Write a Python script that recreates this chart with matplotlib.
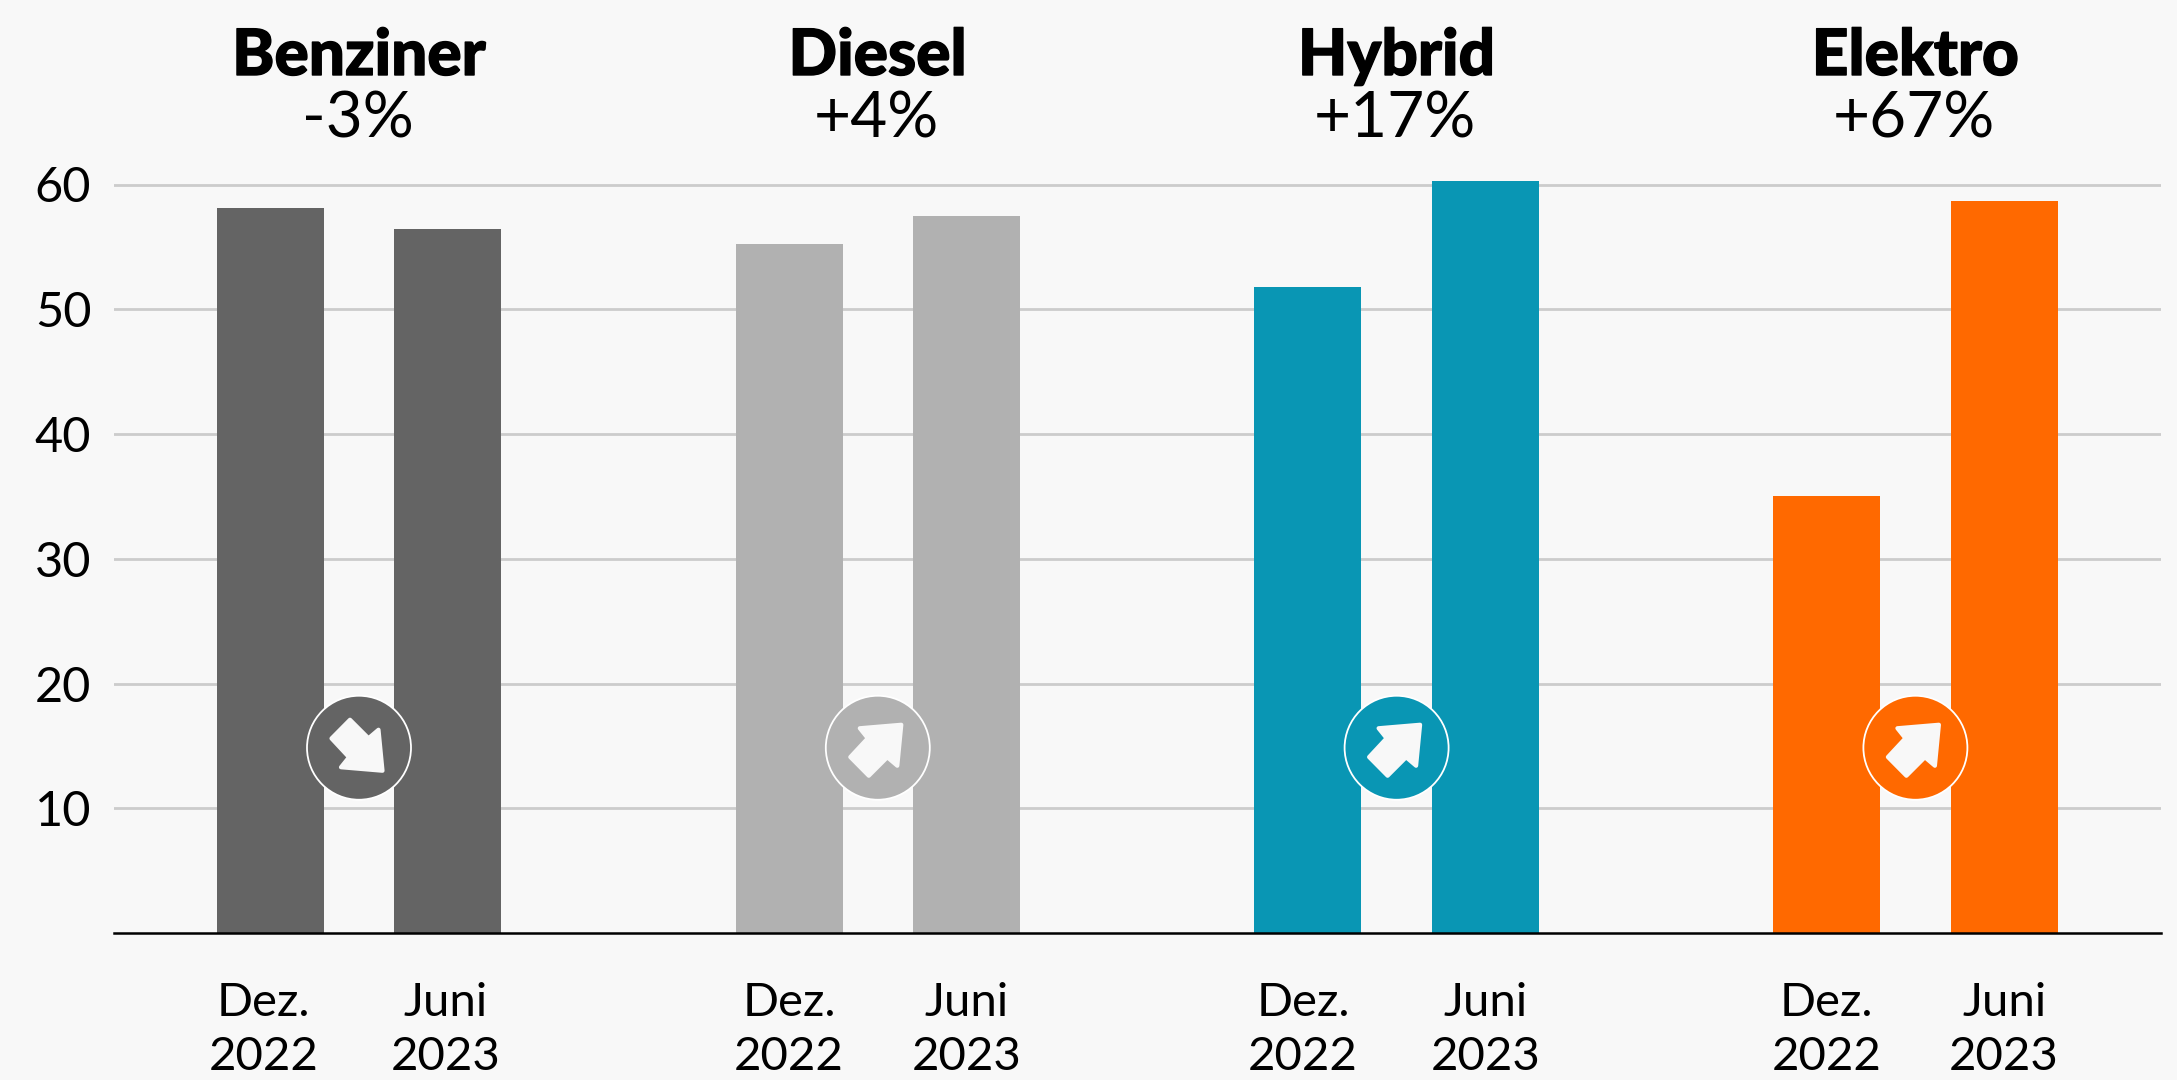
#!/usr/bin/env python3
"""Bar chart: Benziner / Diesel / Hybrid / Elektro, Dez. 2022 vs Juni 2023."""
import matplotlib
matplotlib.use("Agg")
import matplotlib.pyplot as plt
import matplotlib.patheffects as pe
from matplotlib.patches import Circle, Polygon
import numpy as np

W, H = 2177, 1080
BG = "#f8f8f8"

categories = ["Benziner", "Diesel", "Hybrid", "Elektro"]
changes = ["-3%", "+4%", "+17%", "+67%"]
dec_2022 = [58.1, 55.2, 51.75, 35.0]
jun_2023 = [56.4, 57.5, 60.3, 58.7]
colors = ["#646464", "#b1b1b1", "#0996b4", "#ff6900"]
yticks = [10, 20, 30, 40, 50, 60]
period_top = ["Dez.", "Juni"]
period_bottom = ["2022", "2023"]

plt.rcParams["font.family"] = ["Lato", "DejaVu Sans"]

# Pixel layout of the plot box
LEFT, RIGHT, TOP, BASE = 113.5, 2160.5, 100, 933
PX_PER_UNIT = 12.475
GROUP = 518.8   # px between groups
X0 = 359.0      # px of first group centre

# small nudges of the date labels, in px
dec_shift = [-7, 0, -5, 0]
jun_shift = [-2, 0, 0, 0]

# arrow pointing up-right, px from badge centre, y up (mirrored for "down")
ARROW = np.array([
    (23.5, 23.0), (-18.0, 19.5), (-10.0, 9.5), (-27.5, -9.3),
    (-9.0, -28.0), (9.5, -9.5), (19.5, -18.0),
])

fig = plt.figure(figsize=(W / 100, H / 100), dpi=100, facecolor=BG)
ax = fig.add_axes([LEFT / W, 1 - BASE / H, (RIGHT - LEFT) / W, (BASE - TOP) / H], facecolor=BG)
ax.set_xlim((LEFT - X0) / GROUP, (RIGHT - X0) / GROUP)
ax.set_ylim(0, (BASE - TOP) / PX_PER_UNIT)

x = np.arange(len(categories))
off = 88.7 / GROUP
width = 107 / GROUP

ax.bar(x - off, dec_2022, width, color=colors, zorder=3)
ax.bar(x + off, jun_2023, width, color=colors, zorder=3)

for s in ["top", "right", "left"]:
    ax.spines[s].set_visible(False)
ax.spines["bottom"].set_color("#000000")
ax.spines["bottom"].set_linewidth(1.8)
ax.spines["bottom"].set_zorder(4)

ax.set_yticks(yticks)
ax.yaxis.grid(True, color="#cccccc", lw=2.0, zorder=1)
ax.set_axisbelow(True)
ax.tick_params(axis="y", length=0, labelsize=35, pad=16, labelcolor="#000000")
ax.set_xticks([])

tr = ax.get_xaxis_transform()
for i, cat in enumerate(categories):
    cx = x[i]
    # offsets measured from the baseline of the plot
    t = ax.annotate(cat, (cx, 0), xycoords=tr, xytext=(0, BASE - 75), textcoords="offset pixels",
                    ha="center", va="baseline", fontsize=46, fontweight="black", color="#000000")
    t.set_path_effects([pe.withStroke(linewidth=1.0, foreground="#000000")])
    ax.annotate(changes[i], (cx - 1.5 / GROUP, 0), xycoords=tr, xytext=(0, BASE - 138), textcoords="offset pixels",
                ha="center", va="baseline", fontsize=46, color="#000000")

    shifts = (dec_shift[i], jun_shift[i])
    for k, xx in enumerate((cx - off, cx + off)):
        ax.annotate(period_top[k], (xx, 0), xycoords=tr, xytext=(shifts[k], -83), textcoords="offset pixels",
                    ha="center", va="baseline", fontsize=34, color="#000000")
        ax.annotate(period_bottom[k], (xx, 0), xycoords=tr, xytext=(shifts[k], -137), textcoords="offset pixels",
                    ha="center", va="baseline", fontsize=34, color="#000000")

    # badge with arrow, drawn in pixel space
    px, py = ax.transData.transform((cx, 14.85))
    fig.add_artist(Circle((px, py), 52, transform=None, facecolor=colors[i],
                          edgecolor="#ffffff", lw=1.3, zorder=5))
    pts = ARROW.copy()
    if jun_2023[i] < dec_2022[i]:
        pts[:, 1] *= -1
    fig.add_artist(Polygon(pts + (px, py), closed=True, transform=None, facecolor=BG,
                           edgecolor=BG, lw=3, joinstyle="round", zorder=6))

fig.savefig("out.png", dpi=100, facecolor=BG)
